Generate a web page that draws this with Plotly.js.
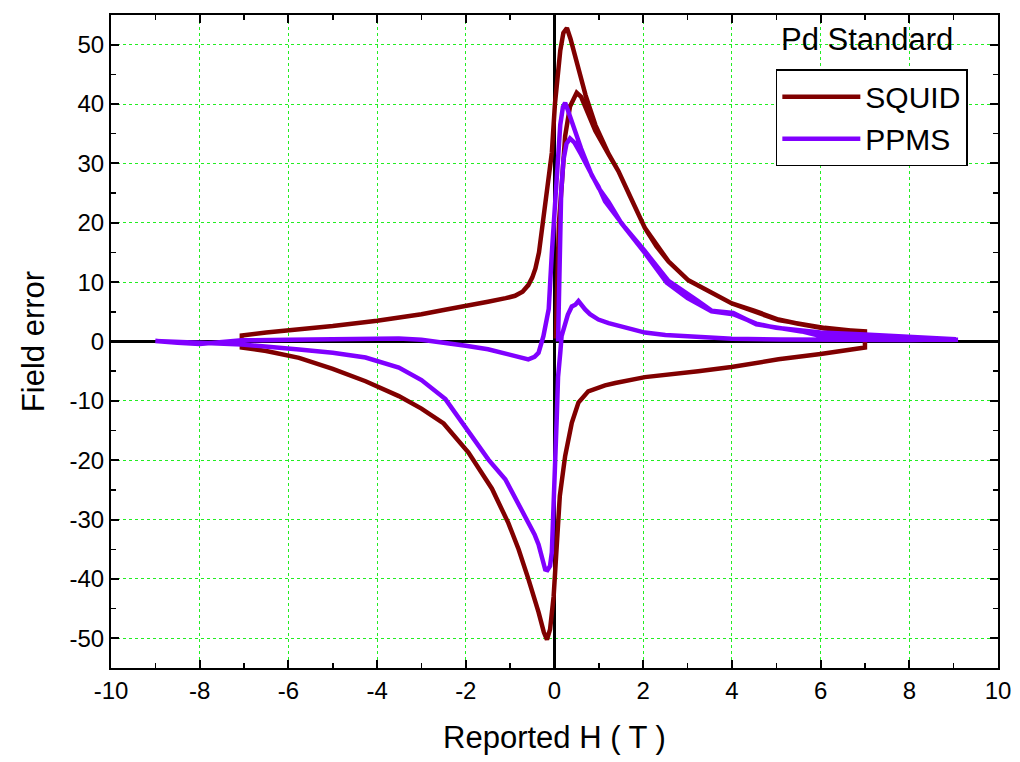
<!DOCTYPE html>
<html>
<head>
<meta charset="utf-8">
<script src="https://cdn.plot.ly/plotly-3.0.1.min.js"></script>
<style>
html,body{margin:0;padding:0;background:#fff;}
#chart{width:1020px;height:762px;}
</style>
</head>
<body>
<div id="chart"></div>
<script>
// SQUID: virgin 0 -> +7, descending +7 -> -7, ascending -7 -> +7
const squidH = [0.03,0.05,0.07,0.10,0.16,0.24,0.35,0.50,0.60,0.75,0.92,1.22,1.44,1.70,2.04,2.30,2.57,3.02,3.50,4.00,4.50,5.05,5.50,6.09,6.60,7.00,
  7.00,6.50,6.00,5.05,4.50,3.99,3.24,2.49,2.04,1.37,1.14,0.76,0.54,0.39,0.24,0.12,0.05,-0.02,-0.10,-0.17,-0.24,-0.36,-0.59,-0.81,-1.04,-1.41,-1.94,-2.50,-3.00,-3.51,-4.26,-5.00,-5.76,-6.50,-7.05,
  -7.05,-6.50,-5.76,-5.00,-4.00,-3.51,-3.00,-2.50,-2.01,-1.50,-1.10,-0.89,-0.72,-0.59,-0.50,-0.43,-0.35,-0.29,-0.21,-0.12,-0.06,0.01,0.08,0.13,0.20,0.28,0.36,0.45,0.54,0.70,0.92,1.22,1.44,1.70,2.04,2.57,3.02,4.00,5.05,6.09,7.00];
const squidErr = [0.5,5,14,20,26,34.6,39.6,41.9,41.2,38.5,35.5,31.5,28.7,24.5,19.1,16,13.5,10.3,8.3,6.4,5.2,3.7,3.0,2.2,1.9,1.7,
  -1.0,-1.6,-2.1,-3.0,-3.7,-4.3,-5.0,-5.6,-6.0,-7.0,-7.4,-8.4,-10.3,-13.7,-19.3,-26,-34.5,-43,-48.5,-50.2,-49,-45.6,-40,-35,-30.6,-24.8,-18.7,-13.8,-11.3,-9.2,-6.7,-4.6,-2.75,-1.6,-1.0,
  1.0,1.5,2.0,2.6,3.5,4.0,4.6,5.3,5.9,6.7,7.3,7.7,8.4,9.5,10.8,12.3,15,18.5,22.8,28,31.8,40,46,49,52,52.8,51,48.5,46,41.5,36.5,31.6,28.7,24.5,19.1,13.5,10.3,6.4,3.6,2.3,1.6];

// PPMS: virgin 0 -> +9, descending +9 -> -9, ascending -9 -> +9
const ppmsH = [0.08,0.10,0.12,0.15,0.20,0.27,0.35,0.45,0.60,0.84,1.00,1.22,1.50,2.04,2.53,3.00,3.54,4.03,4.55,5.00,5.57,6.00,7.00,8.00,9.05,
  8.00,7.00,6.00,5.10,4.00,3.24,2.50,2.04,1.44,1.22,0.99,0.80,0.69,0.60,0.54,0.47,0.39,0.30,0.22,0.16,0.13,0.08,0.05,0.02,0.00,-0.02,-0.06,-0.10,-0.16,-0.21,-0.26,-0.36,-0.45,-0.59,-0.85,-1.11,-1.49,-2.01,-2.46,-3.00,-3.51,-4.26,-5.00,-5.76,-7.05,-8.00,-9.00,
  -8.50,-8.00,-7.50,-7.05,-6.00,-5.00,-4.00,-3.51,-3.00,-2.39,-2.00,-1.50,-1.04,-0.80,-0.59,-0.45,-0.36,-0.25,-0.13,-0.06,-0.02,0.05,0.13,0.19,0.24,0.30,0.39,0.60,0.84,0.99,1.14,1.44,1.59,2.04,2.57,3.24,3.54,4.03,4.55,5.57,6.02,7.00,8.00,9.10];
const ppmsErr = [0,8,17,25,30.5,33.3,34.2,33.5,31.5,28,25.8,23.5,20,14.9,9.9,7.3,5.1,4.6,3.0,2.3,1.8,1.5,1.2,0.8,0.4,
  0.25,0.25,0.3,0.35,0.45,0.7,1.1,1.5,2.6,3.1,3.7,4.6,5.4,6.3,6.8,6.2,5.9,4.5,2.5,0.9,-1.9,-6,-13,-20,-23,-31.6,-35.5,-37.8,-38.5,-38.4,-37,-34.2,-32.5,-30.5,-26.6,-23.2,-19.9,-14.3,-9.7,-6.5,-4.4,-2.7,-1.9,-1.35,-0.5,-0.2,0.1,
  -0.2,-0.4,-0.1,0.2,0.3,0.4,0.5,0.5,0.3,-0.2,-0.7,-1.3,-2.2,-2.7,-3.0,-2.6,-1.9,0.9,5.5,14.9,20,27,36.5,39.5,40.2,39,37,32.5,28,26.1,23.6,20.5,19.2,15.2,10.2,6.8,5.2,4.8,2.9,1.7,0.9,0.5,0.3,0.3];

const seriesNames = ['SQUID','PPMS'];
const seriesColors = ['#800000','#8000ff'];
const xTickVals = [-10,-8,-6,-4,-2,0,2,4,6,8,10];
const xTickText = ['-10','-8','-6','-4','-2','0','2','4','6','8','10'];
const yTickVals = [-50,-40,-30,-20,-10,0,10,20,30,40,50];
const yTickText = ['-50','-40','-30','-20','-10','0','10','20','30','40','50'];

const FONT = 'Liberation Sans, Arial, sans-serif';

const traces = [
  {x: squidH, y: squidErr, name: seriesNames[0], type: 'scatter', mode: 'lines',
   line: {color: seriesColors[0], width: 4.5}},
  {x: ppmsH, y: ppmsErr, name: seriesNames[1], type: 'scatter', mode: 'lines',
   line: {color: seriesColors[1], width: 4.5}}
];

const axisCommon = {
  showline: true, linecolor: '#000', linewidth: 2, mirror: 'ticks',
  ticks: 'inside', ticklen: 8, tickwidth: 2, tickcolor: '#000',
  showgrid: true, gridcolor: '#22ee22', gridwidth: 1, griddash: 'dot',
  zeroline: true, zerolinecolor: '#000', zerolinewidth: 2.5,
  tickfont: {family: FONT, size: 24, color: '#000'},
  minor: {ticks: 'inside', ticklen: 5, tickwidth: 1.5, tickcolor: '#000', showgrid: false}
};

const layout = {
  width: 1020, height: 762,
  margin: {l: 111, r: 22, t: 15, b: 94},
  paper_bgcolor: '#fff', plot_bgcolor: '#fff',
  font: {family: FONT, color: '#000'},
  xaxis: Object.assign({}, axisCommon, {
    range: [-10, 10], tickmode: 'array', tickvals: xTickVals, ticktext: xTickText,
    minor: Object.assign({}, axisCommon.minor, {dtick: 1}),
    title: {text: 'Reported H ( T )', font: {family: FONT, size: 31, color: '#000'}, standoff: 24}
  }),
  yaxis: Object.assign({}, axisCommon, {
    range: [-55, 55], tickmode: 'array', tickvals: yTickVals, ticktext: yTickText,
    minor: Object.assign({}, axisCommon.minor, {dtick: 5}),
    title: {text: 'Field error', font: {family: FONT, size: 31, color: '#000'}, standoff: 16}
  }),
  showlegend: true,
  legend: {
    x: 0.966, xanchor: 'right', y: 0.917, yanchor: 'top',
    bgcolor: '#fff', bordercolor: '#000', borderwidth: 1.5,
    font: {family: FONT, size: 30, color: '#000'},
    itemwidth: 78, tracegroupgap: 0
  },
  annotations: [{
    text: 'Pd Standard', xref: 'paper', yref: 'paper', x: 0.852, y: 0.962,
    xanchor: 'center', yanchor: 'middle', showarrow: false,
    font: {family: FONT, size: 31, color: '#000'}
  }]
};

Plotly.newPlot('chart', traces, layout, {displayModeBar: false, staticPlot: true});
</script>
</body>
</html>
